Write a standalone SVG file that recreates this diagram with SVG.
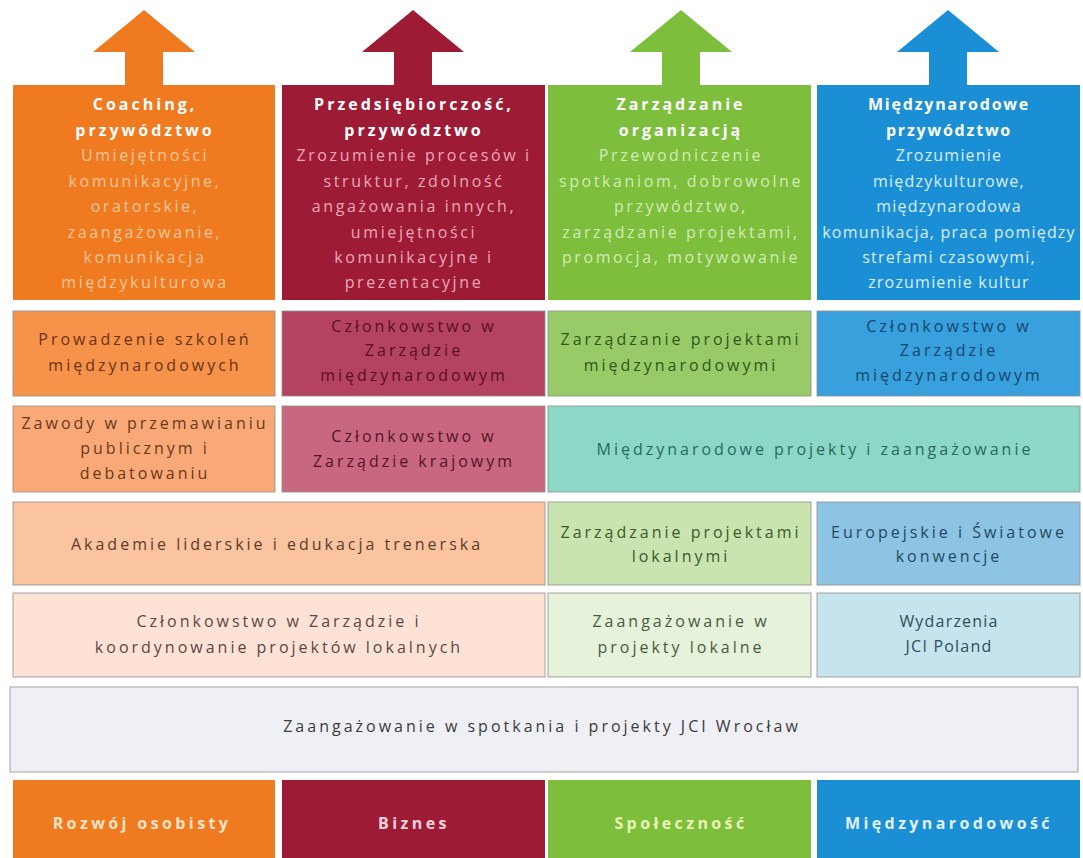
<svg xmlns="http://www.w3.org/2000/svg" width="1083" height="858" viewBox="0 0 1083 858">
<style>
text{font-family:"Open Sans","Liberation Sans",sans-serif;font-size:16px;text-anchor:middle;letter-spacing:3px}
.h{font-weight:bold;fill:#ffffff}
.hb text{letter-spacing:2.6px}
.nb text{letter-spacing:1.2px}
.lb{stroke:#8f8f8f;stroke-opacity:0.55;stroke-width:1.5}
.bot{font-weight:bold;letter-spacing:3.4px}
</style>
<rect x="0" y="0" width="1083" height="858" fill="#ffffff"/>
<g id="arrows">
<polygon points="144,10 195,52 163,52 163,86 125,86 125,52 93,52" fill="#F07A1F"/>
<polygon points="413,10 464,52 432,52 432,86 394,86 394,52 362,52" fill="#9E1B36"/>
<polygon points="681,10 732,52 700,52 700,86 662,86 662,52 630,52" fill="#7DBE3C"/>
<polygon points="948,10 999,52 967,52 967,86 929,86 929,52 897,52" fill="#1A8FD5"/>
</g>
<g id="h1">
<rect x="13" y="85" width="262" height="215" fill="#F07A1F"/>
<text class="h" x="145" y="110">Coaching,</text>
<text class="h" x="145" y="136">przywództwo</text>
<g fill="#FAC69A" class="hb"><text x="145" y="161">Umiejętności</text><text x="145" y="187">komunikacyjne,</text><text x="145" y="212">oratorskie,</text><text x="145" y="238">zaangażowanie,</text><text x="145" y="263">komunikacja</text><text x="145" y="288">międzykulturowa</text></g>
</g>
<g id="h2">
<rect x="282" y="85" width="263" height="215" fill="#9E1B36"/>
<text class="h" x="414" y="110">Przedsiębiorczość,</text>
<text class="h" x="414" y="136">przywództwo</text>
<g fill="#EBA7B8" class="hb"><text x="414" y="161">Zrozumienie procesów i</text><text x="414" y="187">struktur, zdolność</text><text x="414" y="212">angażowania innych,</text><text x="414" y="238">umiejętności</text><text x="414" y="263">komunikacyjne i</text><text x="414" y="288">prezentacyjne</text></g>
</g>
<g id="h3">
<rect x="548" y="85" width="263" height="215" fill="#7DBE3C"/>
<text class="h" x="681" y="110">Zarządzanie</text>
<text class="h" x="681" y="136">organizacją</text>
<g fill="#D2EBB6" class="hb"><text x="681" y="161">Przewodniczenie</text><text x="681" y="187">spotkaniom, dobrowolne</text><text x="681" y="212">przywództwo,</text><text x="681" y="238">zarządzanie projektami,</text><text x="681" y="263">promocja, motywowanie</text></g>
</g>
<g id="h4">
<rect x="817" y="85" width="263" height="215" fill="#1A8FD5"/>
<text class="h" x="949" y="110" style="letter-spacing:1.8px">Międzynarodowe</text>
<text class="h" x="949" y="136" style="letter-spacing:1.8px">przywództwo</text>
<g fill="#D8EEFB" class="nb"><text x="949" y="161">Zrozumienie</text><text x="949" y="187">międzykulturowe,</text><text x="949" y="212">międzynarodowa</text><text x="949" y="238">komunikacja, praca pomiędzy</text><text x="949" y="263">strefami czasowymi,</text><text x="949" y="288">zrozumienie kultur</text></g>
</g>
<g id="r2c1"><rect class="lb" x="13" y="311" width="262" height="85" fill="#F7924A"/>
<g fill="#6A3414"><text x="145" y="345">Prowadzenie szkoleń</text><text x="145" y="371">międzynarodowych</text></g></g>
<g id="r2c2"><rect class="lb" x="282" y="311" width="263" height="85" fill="#B4435F"/>
<g fill="#5A0E22"><text x="414" y="332">Członkowstwo w</text><text x="414" y="356">Zarządzie</text><text x="414" y="381">międzynarodowym</text></g></g>
<g id="r2c3"><rect class="lb" x="548" y="311" width="263" height="85" fill="#98CB68"/>
<g fill="#2E5818"><text x="681" y="345">Zarządzanie projektami</text><text x="681" y="371">międzynarodowymi</text></g></g>
<g id="r2c4"><rect class="lb" x="817" y="311" width="263" height="85" fill="#38A0DC"/>
<g fill="#13476F"><text x="949" y="332">Członkowstwo w</text><text x="949" y="356">Zarządzie</text><text x="949" y="381">międzynarodowym</text></g></g>
<g id="r3c1"><rect class="lb" x="13" y="406" width="262" height="86" fill="#F9A977"/>
<g fill="#6A3818"><text x="145" y="429">Zawody w przemawianiu</text><text x="145" y="454">publicznym i</text><text x="145" y="479">debatowaniu</text></g></g>
<g id="r3c2"><rect class="lb" x="282" y="406" width="263" height="86" fill="#C8677F"/>
<g fill="#561427"><text x="414" y="442">Członkowstwo w</text><text x="414" y="467">Zarządzie krajowym</text></g></g>
<g id="r3c34"><rect class="lb" x="548" y="406" width="532" height="86" fill="#8CD8C6"/>
<g fill="#2A6960"><text x="815" y="455">Międzynarodowe projekty i zaangażowanie</text></g></g>
<g id="r4c12"><rect class="lb" x="13" y="502" width="532" height="83" fill="#FAC4A0"/>
<g fill="#5E3A28"><text x="277" y="550">Akademie liderskie i edukacja trenerska</text></g></g>
<g id="r4c3"><rect class="lb" x="548" y="502" width="263" height="83" fill="#C9E4AF"/>
<g fill="#3B5A2B"><text x="681" y="538">Zarządzanie projektami</text><text x="681" y="562">lokalnymi</text></g></g>
<g id="r4c4"><rect class="lb" x="817" y="502" width="263" height="83" fill="#8DC3E3"/>
<g fill="#244A62"><text x="949" y="538">Europejskie i Światowe</text><text x="949" y="562">konwencje</text></g></g>
<g id="r5c12"><rect class="lb" x="13" y="593" width="532" height="84" fill="#FDE2D5"/>
<g fill="#5A4844"><text x="279" y="627">Członkowstwo w Zarządzie i</text><text x="279" y="653">koordynowanie projektów lokalnych</text></g></g>
<g id="r5c3"><rect class="lb" x="548" y="593" width="263" height="84" fill="#E6F2DA"/>
<g fill="#4A5A40"><text x="681" y="627">Zaangażowanie w</text><text x="681" y="653">projekty lokalne</text></g></g>
<g id="r5c4"><rect class="lb" x="817" y="593" width="263" height="84" fill="#C5E4EE"/>
<g fill="#2F4F5A" class="nb"><text x="949" y="627">Wydarzenia</text><text x="949" y="652">JCI Poland</text></g></g>
<g id="r6"><rect class="lb" x="10" y="687" width="1068" height="85" fill="#EEF0F6"/>
<g fill="#3C3C3C"><text x="542" y="732">Zaangażowanie w spotkania i projekty JCI Wrocław</text></g></g>
<g id="b1"><rect x="13" y="780" width="262" height="78" fill="#F07A1F"/><text class="bot" x="142" y="829" fill="#FDE3C8">Rozwój osobisty</text></g>
<g id="b2"><rect x="282" y="780" width="263" height="78" fill="#9E1B36"/><text class="bot" x="414" y="829" fill="#F7D3DD">Biznes</text></g>
<g id="b3"><rect x="548" y="780" width="263" height="78" fill="#7DBE3C"/><text class="bot" x="681" y="829" fill="#EAF7B4">Społeczność</text></g>
<g id="b4"><rect x="817" y="780" width="263" height="78" fill="#1A8FD5"/><text class="bot" x="949" y="829" fill="#E2F3FF">Międzynarodowość</text></g>
</svg>
